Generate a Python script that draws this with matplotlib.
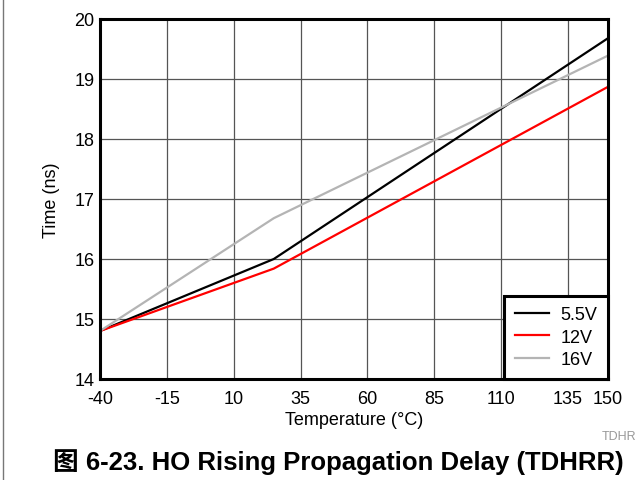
import matplotlib
matplotlib.use("Agg")
import matplotlib.pyplot as plt
from matplotlib.lines import Line2D

plt.rcParams['font.family'] = ['Liberation Sans', 'Noto Sans CJK SC', 'DejaVu Sans']
plt.rcParams['axes.unicode_minus'] = False

# data
temp = [-40, 25, 150]
t_55v = [14.8, 16.0, 19.68]
t_12v = [14.8, 15.84, 18.87]
t_16v = [14.8, 16.68, 19.39]

xticks = [-40, -15, 10, 35, 60, 85, 110, 135, 150]
yticks = [14, 15, 16, 17, 18, 19, 20]

fig = plt.figure(figsize=(6.38, 4.81), dpi=100)
ax = fig.add_axes([100/638, 101/481, 508/638, 360/481])

ax.plot(temp, t_55v, color='black', lw=1.6, label='5.5V')
ax.plot(temp, t_12v, color='#ff0000', lw=1.6, label='12V')
ax.plot(temp, t_16v, color='#b4b4b4', lw=1.6, label='16V')

ax.set_xlim(-40, 150)
ax.set_ylim(14, 20)
ax.set_xticks(xticks)
ax.set_yticks(yticks)
ax.grid(True, color='#555555', lw=0.9)
ax.tick_params(labelsize=13, length=0)
ax.tick_params(axis='x', pad=8)
ax.tick_params(axis='y', pad=4)
for s in ax.spines.values():
    s.set_linewidth(2.2)

ax.set_xlabel('Temperature (°C)', fontsize=13, labelpad=3)
ax.set_ylabel('Time (ns)', fontsize=13, labelpad=10)

leg = ax.legend(loc='lower right', fontsize=13, fancybox=False, framealpha=1,
                edgecolor='black', borderaxespad=0, handlelength=1.9,
                labelspacing=0.3, borderpad=0.6, handletextpad=0.6)
leg.get_frame().set_linewidth(2.2)

fig.text(0.997, 0.085, 'TDHR', fontsize=9, color='#999999', ha='right')
fig.text(0.53, 0.022, '图 6-23. HO Rising Propagation Delay (TDHRR)',
         fontsize=18.5, fontweight='bold', ha='center')

# page frame lines
fig.add_artist(Line2D([0, 1], [0.999, 0.999], color='black', lw=1.2))
fig.add_artist(Line2D([0.005, 0.005], [0, 1], color='#777777', lw=1))

fig.savefig('out.png', dpi=100)
